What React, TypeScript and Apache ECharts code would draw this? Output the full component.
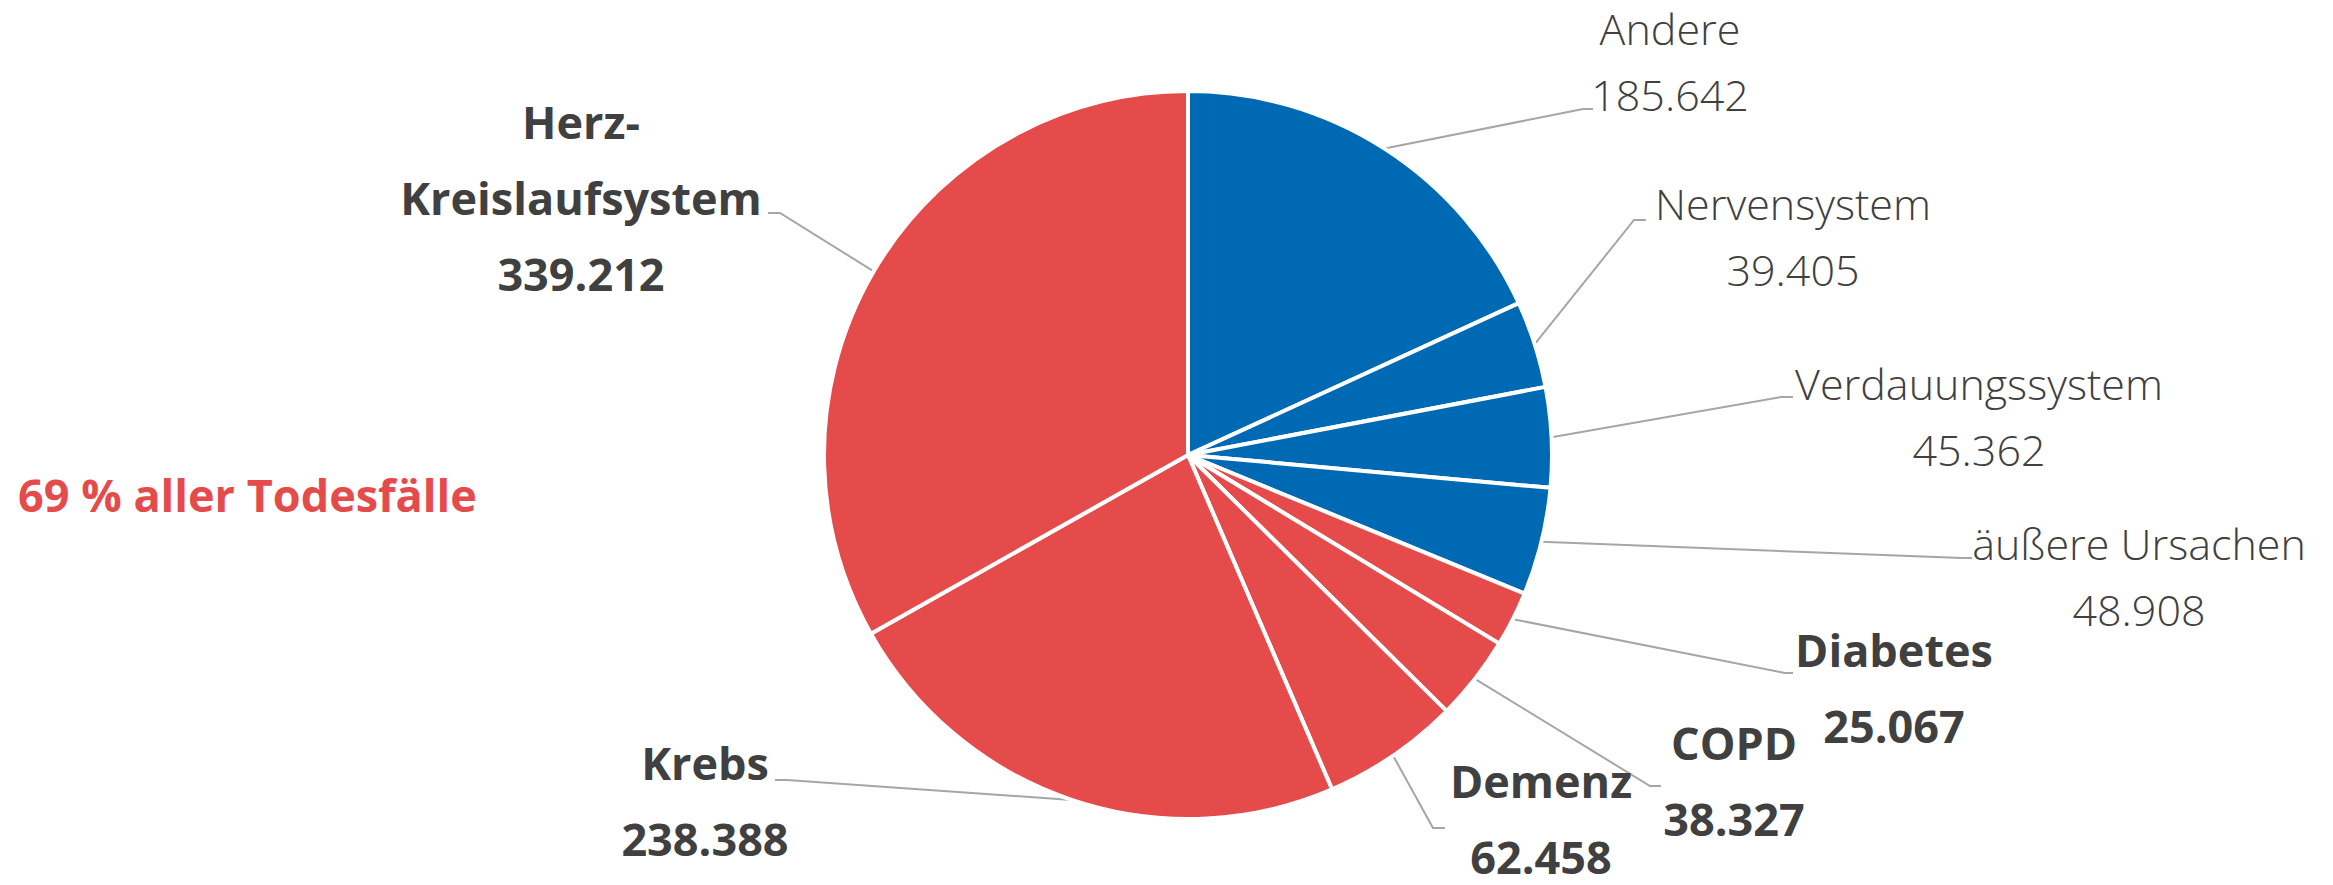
import React, { useEffect, useRef } from "react";
import * as echarts from "echarts";

const categories = [
  "Andere",
  "Nervensystem",
  "Verdauungssystem",
  "äußere Ursachen",
  "Diabetes",
  "COPD",
  "Demenz",
  "Krebs",
  "Herz-\nKreislaufsystem",
];
const values = [185642, 39405, 45362, 48908, 25067, 38327, 62458, 238388, 339212];
const groups = ["blue", "blue", "blue", "blue", "red", "red", "red", "red", "red"];
const headline = "69 % aller Todesfälle";

const RED = "#E64B4B";
const BLUE = "#0069B4";
const TEXT = "#404040";
const FONT_B = "'Open Sans'";
const FONT_L = "'Open Sans'";

// label placement (layout only)
const labelPos = [
  { x: 1670, y: 61, bend: [1583, 109], end: [1593, 109] },
  { x: 1793, y: 236, bend: [1634, 220], end: [1646, 220] },
  { x: 1979, y: 416, bend: [1781, 397], end: [1793, 397] },
  { x: 2139, y: 576, bend: [1962, 558], end: [1972, 558] },
  { x: 1894, y: 687, bend: [1785, 673], end: [1793, 673] },
  { x: 1734, y: 780, bend: [1650, 786], end: [1661, 786] },
  { x: 1541, y: 818, bend: [1433, 828], end: [1445, 828] },
  { x: 705, y: 800, bend: [787, 780], end: [775, 780] },
  { x: 581, y: 197, bend: [780, 213], end: [768, 213] },
];

const CENTER = [1188, 455];
const RADIUS = 364;

function fmt(v: number): string {
  return String(v).replace(/\B(?=(\d{3})+(?!\d))/g, ".");
}

export default function App() {
  const ref = useRef<HTMLDivElement>(null);
  useEffect(() => {
    if (!ref.current) return;
    const chart = echarts.init(ref.current, null, { renderer: "svg" });
    const total = values.reduce((a, b) => a + b, 0);
    const edgePoint = (i: number) => {
      let cum = 0;
      for (let k = 0; k < i; k++) cum += values[k];
      const mid = ((cum + values[i] / 2) / total) * Math.PI * 2;
      return [CENTER[0] + RADIUS * Math.sin(mid), CENTER[1] - RADIUS * Math.cos(mid)];
    };
    const data = categories.map((name, i) => {
      const red = groups[i] === "red";
      return {
        name,
        value: values[i],
        itemStyle: { color: red ? RED : BLUE },
        label: {
          formatter: red ? "{nb|{b}}\n{vb|" + fmt(values[i]) + "}" : "{n|{b}}\n{v|" + fmt(values[i]) + "}",
        },
      };
    });
    chart.setOption({
      animation: false,
      backgroundColor: "#ffffff",
      graphic: [
        {
          type: "text",
          x: 18,
          y: 494,
          style: {
            text: headline,
            fill: RED,
            font: `bold 45px ${FONT_B}`,
            verticalAlign: "middle",
          },
        },
      ],
      series: [
        {
          type: "pie",
          center: CENTER,
          radius: RADIUS,
          startAngle: 90,
          clockwise: true,
          avoidLabelOverlap: false,
          silent: true,
          itemStyle: { borderColor: "#ffffff", borderWidth: 4 },
          label: {
            show: true,
            position: "outside",
            align: "center",
            rich: {
              n: { fontFamily: FONT_L, fontWeight: 300, fontSize: 43, color: TEXT, lineHeight: 66, align: "center" },
              v: { fontFamily: FONT_L, fontWeight: 300, fontSize: 43, color: TEXT, lineHeight: 66, align: "center" },
              nb: { fontFamily: FONT_B, fontWeight: "bold", fontSize: 45, color: TEXT, lineHeight: 76, align: "center" },
              vb: { fontFamily: FONT_B, fontWeight: "bold", fontSize: 45, color: TEXT, lineHeight: 76, align: "center" },
            },
          },
          labelLine: { show: true, lineStyle: { color: "#A6A6A6", width: 2 }, length: 20, length2: 10 },
          labelLayout: (params: any) => {
            const L = labelPos[params.dataIndex];
            const p0 =
              params.labelLinePoints && params.labelLinePoints[0]
                ? params.labelLinePoints[0]
                : edgePoint(params.dataIndex);
            return {
              x: L.x,
              y: L.y,
              align: "center",
              verticalAlign: "middle",
              labelLinePoints: [p0, L.bend, L.end],
            };
          },
          data,
        },
      ],
    });
    return () => chart.dispose();
  }, []);
  return (
    <div
      ref={ref}
      style={{ position: "fixed", left: 0, top: 0, width: 2333, height: 885 }}
    />
  );
}
